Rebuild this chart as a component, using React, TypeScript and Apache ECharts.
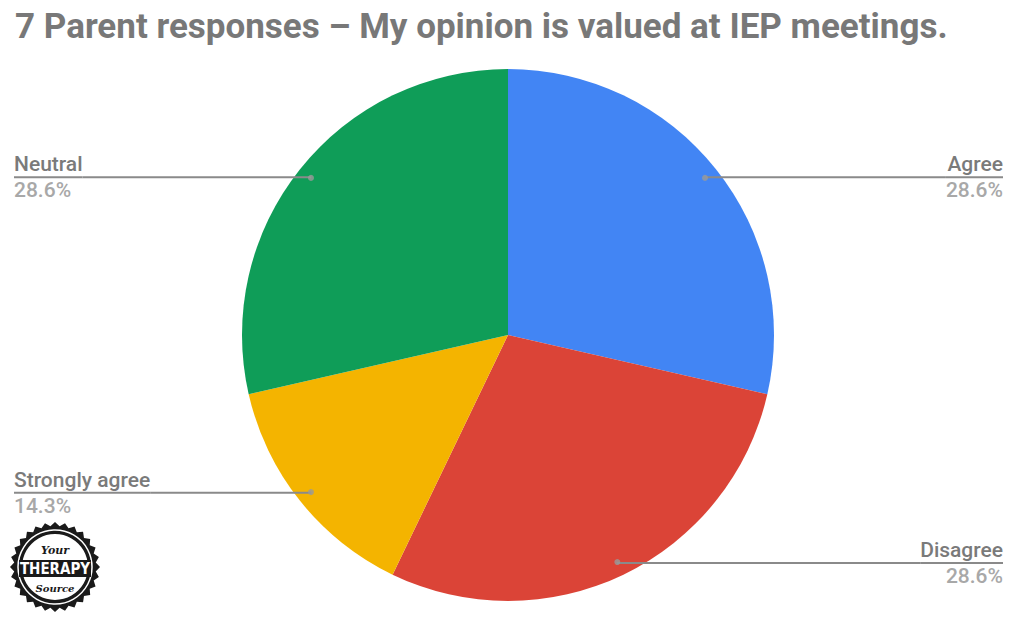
import React, { useEffect, useRef } from "react";
import * as echarts from "echarts";

const TITLE = "7 Parent responses – My opinion is valued at IEP meetings.";
const categories = ["Agree", "Disagree", "Strongly agree", "Neutral"];
const responses = [2, 2, 1, 2];
const colors = ["#4285F4", "#DB4437", "#F4B400", "#0F9D58"];

const CX = 508;
const CY = 335;
const R = 266;
const DOT_R = 252;

function teethPoints(cx: number, cy: number, rOut: number, rIn: number, n: number) {
  const pts: number[][] = [];
  for (let i = 0; i < n * 2; i++) {
    const a = (Math.PI * i) / n;
    const r = i % 2 === 0 ? rOut : rIn;
    pts.push([cx + r * Math.cos(a), cy + r * Math.sin(a)]);
  }
  return pts;
}

export default function App() {
  const ref = useRef<HTMLDivElement>(null);
  useEffect(() => {
    if (!ref.current) return;
    const chart = echarts.init(ref.current, undefined, { renderer: "svg" });
    const total = responses.reduce((a, b) => a + b, 0);
    const mids: number[] = [];
    let acc = 0;
    responses.forEach((v) => {
      mids.push(acc + v / 2);
      acc += v;
    });
    const pieData = categories.map((c, i) => ({
      name: c,
      value: responses[i],
      itemStyle: { color: colors[i] },
    }));
    const lc = 55, lcy = 567;
    chart.setOption({
      animation: false,
      backgroundColor: "#ffffff",
      title: {
        text: TITLE,
        left: 10,
        top: 4,
        textStyle: {
          fontFamily: "Roboto",
          fontSize: 35,
          fontWeight: "bold",
          color: "#787878",
        },
      },
      polar: { center: [CX, CY], radius: R },
      angleAxis: {
        type: "value",
        min: 0,
        max: total,
        startAngle: 90,
        clockwise: true,
        show: false,
      },
      radiusAxis: { type: "value", min: 0, max: R, show: false },
      series: [
        {
          type: "pie",
          left: 0,
          top: 0,
          width: 1030,
          height: 623,
          center: [CX, CY],
          radius: R,
          startAngle: 90,
          clockwise: true,
          label: { show: false },
          labelLine: { show: false },
          silent: true,
          itemStyle: { borderWidth: 0 },
          data: pieData,
          z: 1,
        },
        {
          type: "pie",
          left: 14,
          top: 0,
          width: 989,
          height: 623,
          center: [CX - 14, CY],
          radius: DOT_R,
          startAngle: 90,
          clockwise: true,
          silent: true,
          itemStyle: { color: "rgba(0,0,0,0)", borderWidth: 0 },
          label: {
            show: true,
            position: "outer",
            alignTo: "edge",
            edgeDistance: 0,
            distanceToLabelLine: 0,
            formatter: (p: any) =>
              `{name|${p.name}}\n{hr|}\n{pct|${((p.value / total) * 100).toFixed(1)}%}`,
            rich: {
              name: {
                fontFamily: "Roboto",
                fontSize: 21,
                fontWeight: 500,
                color: "#7a7a7a",
                lineHeight: 24,
                height: 24,
              },
              hr: {
                width: "100%",
                height: 2,
                lineHeight: 2,
                backgroundColor: "#8a8a8a",
              },
              pct: {
                fontFamily: "Roboto",
                fontSize: 21,
                fontWeight: 500,
                color: "#a8a8a8",
                lineHeight: 24,
                height: 24,
              },
            },
          },
          labelLine: {
            show: true,
            length: 1,
            length2: 20,
            smooth: false,
            lineStyle: { color: "#8a8a8a", width: 2 },
          },
          data: categories.map((c, i) => ({ name: c, value: responses[i] })),
          z: 2,
        },
        {
          type: "scatter",
          coordinateSystem: "polar",
          symbolSize: 6,
          silent: true,
          itemStyle: { color: "#9a9a9a" },
          data: mids.map((m) => [DOT_R, m]),
          z: 3,
        },
      ],
      graphic: [
        {
          type: "polygon",
          shape: { points: teethPoints(lc, lcy, 45, 41, 28) },
          style: { fill: "#1a1a1a" },
        },
        { type: "circle", shape: { cx: lc, cy: lcy, r: 37 }, style: { fill: "none", stroke: "#ffffff", lineWidth: 1.5 } },
        { type: "circle", shape: { cx: lc, cy: lcy, r: 33 }, style: { fill: "#ffffff" } },
        {
          type: "rect",
          shape: { x: lc - 36, y: lcy - 7, width: 72, height: 17 },
          style: { fill: "#1a1a1a" },
        },
        {
          type: "text",
          x: lc,
          y: lcy + 2,
          style: {
            text: "THERAPY",
            fill: "#ffffff",
            font: "bold 15px 'Liberation Sans Narrow', 'DejaVu Sans Condensed', sans-serif",
            align: "center",
            verticalAlign: "middle",
          },
        },
        {
          type: "text",
          x: lc,
          y: lcy - 17,
          style: {
            text: "Your",
            fill: "#1a1a1a",
            font: "italic bold 11px 'DejaVu Serif'",
            align: "center",
            verticalAlign: "middle",
          },
        },
        {
          type: "text",
          x: lc,
          y: lcy + 21,
          style: {
            text: "Source",
            fill: "#1a1a1a",
            font: "italic bold 10px 'DejaVu Serif'",
            align: "center",
            verticalAlign: "middle",
          },
        },
      ],
    });
    return () => chart.dispose();
  }, []);
  return (
    <div
      ref={ref}
      style={{ position: "fixed", left: 0, top: 0, width: 1030, height: 623 }}
    />
  );
}
